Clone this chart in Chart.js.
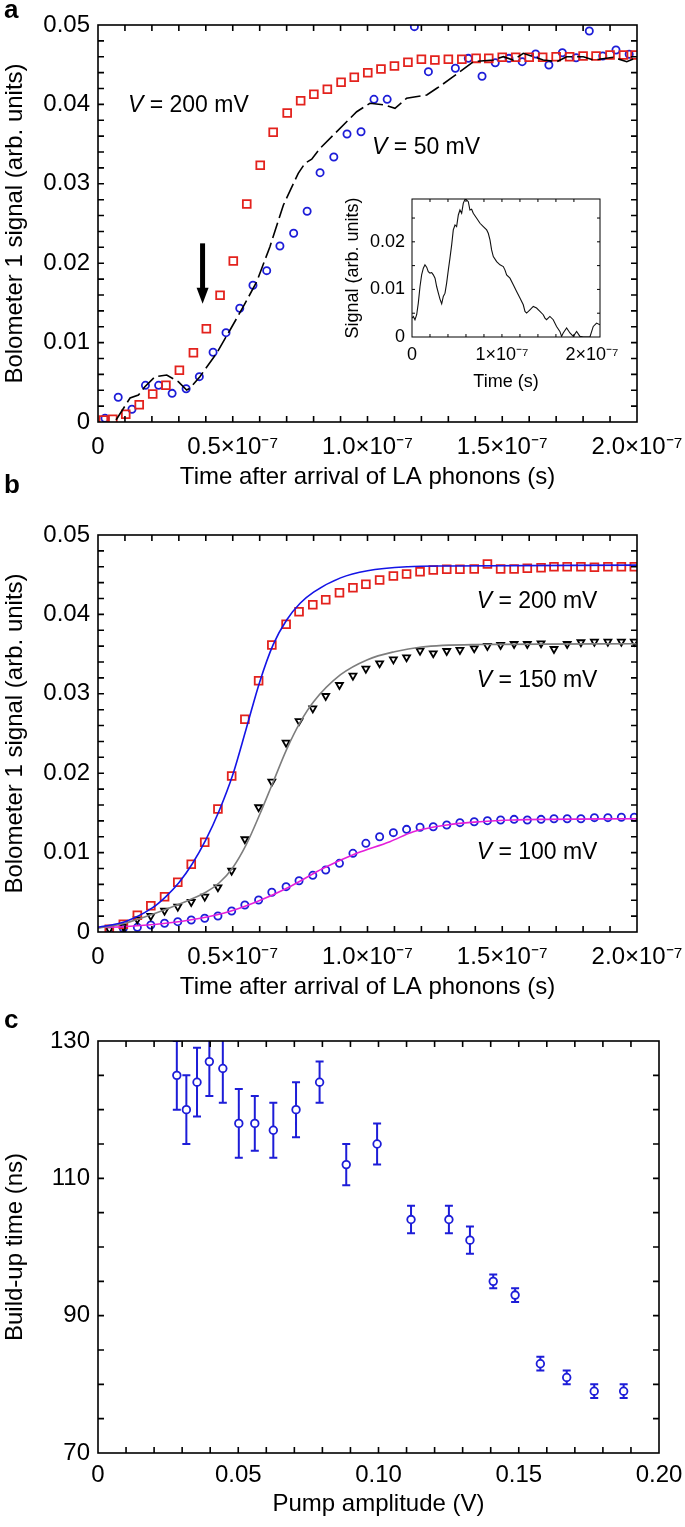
<!DOCTYPE html>
<html>
<head>
<meta charset="utf-8">
<title>Bolometer 1 signal build-up</title>
<script src="https://cdn.jsdelivr.net/npm/chart.js@4.4.1/dist/chart.umd.min.js"></script>
<style>
  body { margin: 0; background: #fff; }
  #page { position: relative; width: 685px; height: 1527px; overflow: hidden; font-family: "Liberation Sans", Arial, sans-serif; }
  #page canvas { position: absolute; }
  .tag { position: absolute; left: 4px; font-weight: bold; font-size: 26px; line-height: 1; color: #000; }
</style>
</head>
<body>
<div id="page">
  <canvas id="chart-a" width="685" height="500" style="left:0;top:0"></canvas>
  <canvas id="chart-inset" width="290" height="210" style="left:340px;top:190px"></canvas>
  <canvas id="chart-b" width="685" height="534" style="left:0;top:470px"></canvas>
  <canvas id="chart-c" width="685" height="523" style="left:0;top:1004px"></canvas>
  <div class="tag" style="top:-4px">a</div>
  <div class="tag" style="top:471px">b</div>
  <div class="tag" style="top:1006px">c</div>
</div>
<script>
// --- panel a : V = 200 mV (squares), V = 50 mV (circles + dashed trace), time in ns ---
const aTime200 = [2, 5.5, 10.3, 15.3, 20.3, 25.2, 30.2, 35.4, 40.2, 45.3, 50.2, 55.2, 60.2, 65, 70.2, 75.2, 80.1, 85.1, 90.2, 95.1,
  100.1, 105, 110, 115, 120, 125, 130, 135, 140.3, 145, 150, 155, 160, 165, 170, 175, 180, 184.8, 190, 195, 199.3];
const aSignal200 = [0.00025, 0.00034, 0.00097, 0.00218, 0.00353, 0.00462, 0.00651, 0.00873, 0.01175, 0.01596,
  0.02028, 0.02746, 0.03233, 0.03649, 0.03892, 0.04047, 0.04127, 0.0419, 0.04278, 0.04341,
  0.04399, 0.04446, 0.04484, 0.0453, 0.04568, 0.04559, 0.04568, 0.04568, 0.0458, 0.0458,
  0.04593, 0.04593, 0.04593, 0.04593, 0.04601, 0.04601, 0.0461, 0.0461, 0.04622, 0.04622, 0.04622];
const aTime50 = [2.6, 7.5, 12.6, 17.6, 22.5, 27.5, 32.7, 37.6, 42.7, 47.5, 52.6, 57.5, 62.6, 67.5, 72.6, 77.6, 82.4, 87.5, 92.4, 97.6,
  102.4, 107.3, 117.4, 122.6, 132.6, 137.4, 142.5, 147.4, 152.5, 157.4, 162.4, 167.3, 172.3, 177.4, 182.3, 187.3, 192.2, 197.1];
const aSignal50 = [0.00047, 0.00311, 0.0016, 0.00462, 0.00462, 0.00361, 0.00419, 0.00571, 0.00878, 0.01125,
  0.01432, 0.01722, 0.01906, 0.02217, 0.02377, 0.02654, 0.0314, 0.03338, 0.03627, 0.03656,
  0.04064, 0.04064, 0.04979, 0.04412, 0.04455, 0.0458, 0.04354, 0.04525, 0.0458, 0.04538,
  0.04635, 0.04496, 0.04651, 0.04588, 0.04924, 0.0461, 0.04685, 0.04631];
const aTraceTime = [6.7, 11.9, 15, 17.4, 21.2, 25.5, 29.8, 32.9, 34.1, 37.8, 44, 49, 53.9, 58.9, 63.8, 68.8, 74.3, 76.8, 79.3, 82.4,
  96, 100.9, 106.5, 110.2, 114.5, 122, 125.7, 127.5, 131.8, 139.3, 146.7, 150.4, 154.1, 157.8, 165.2, 170.2, 173.9, 180.1, 183.8,
  191.2, 196.2, 199.3];
const aTraceSignal = [0.00025, 0.00302, 0.0034, 0.00445, 0.00571, 0.00592, 0.00508, 0.00403, 0.00424, 0.00571,
  0.00865, 0.01159, 0.01452, 0.01767, 0.02208, 0.02733, 0.03132, 0.03258, 0.03309, 0.03447,
  0.03908, 0.04014, 0.03992, 0.03951, 0.04077, 0.04118, 0.04203, 0.04244, 0.04349, 0.04538,
  0.04559, 0.04601, 0.04559, 0.04644, 0.04559, 0.04538, 0.04601, 0.04601, 0.04559,
  0.04593, 0.04538, 0.0458];

// --- inset : difference signal ---
const insetTime = [0, 1.5, 3.3, 5.2, 7, 8.9, 10.7, 12.6, 14.4, 16.3, 18.1, 20, 21.9, 23.7, 25.6, 27.4, 29.3, 31.1, 33, 34.8,
  36.7, 38.5, 40.4, 42.2, 44.1, 45.9, 47.8, 49.6, 51.5, 53.3, 55.2, 57, 58.9, 60.7, 62.6, 64.4, 66.3, 68.1, 71.9, 75.6,
  79.3, 83, 84.8, 86.7, 88.5, 90.4, 94.1, 97.8, 101.5, 103.3, 105.2, 108.9, 112.6, 116.3, 120, 123.7, 125.6, 127.4, 131.1, 134.8,
  138.5, 142.2, 145.9, 147.8, 149.6, 153.3, 157, 160.7, 164.4, 166.3, 168.1, 171.9, 175.6, 179.3, 183, 186.7, 190.4, 194.1, 197.8, 201.5,
  205.2, 208.9];
const insetSignal = [0.00398, 0.00432, 0.00363, 0.00468, 0.00713, 0.01061, 0.01306, 0.01447, 0.01516, 0.01468,
  0.01375, 0.01342, 0.01354, 0.01306, 0.01237, 0.01061, 0.00922, 0.00797, 0.00698, 0.00851,
  0.00922, 0.01132, 0.01411, 0.01656, 0.01935, 0.0225, 0.02354, 0.02319, 0.02564, 0.02669,
  0.026, 0.02809, 0.02893, 0.02878, 0.02843, 0.02669, 0.02683, 0.026, 0.02495, 0.0239,
  0.02319, 0.0225, 0.0218, 0.0204, 0.0183, 0.0169, 0.01585, 0.01516, 0.0148, 0.01411,
  0.01306, 0.01237, 0.01096, 0.00956, 0.00818, 0.00677, 0.00537, 0.00503, 0.00572, 0.00642,
  0.00608, 0.00537, 0.00468, 0.00398, 0.00363, 0.00432, 0.00363, 0.00222, 0.00117, 0.00013,
  0.00084, 0.00189, 0.00084, 0.00013, 0.00117, 0.00013, 0, 0, 0, 0.00222,
  0.00293, 0.00258];

// --- panel b : three bias voltages with fitted curves ---
const bTime = [4.2, 9.4, 14.6, 19.6, 24.7, 29.6, 34.6, 39.6, 44.5, 49.6, 54.5, 59.6, 64.5, 69.8, 74.6, 79.7, 84.5, 89.6, 94.6, 99.4,
  104.5, 109.6, 114.5, 119.5, 124.4, 129.4, 134.3, 139.6, 144.5, 149.4, 154.4, 159.3, 164.4, 169.2, 174.1, 179.2, 184.2, 189.2, 194.2, 199];
const bSignal200 = [0.00034, 0.00097, 0.0021, 0.00331, 0.00445, 0.00626, 0.00853, 0.0113, 0.01549, 0.01965,
  0.02679, 0.03165, 0.03615, 0.03875, 0.04034, 0.04122, 0.04185, 0.04273, 0.04336, 0.04379,
  0.04433, 0.04484, 0.04509, 0.04538, 0.04559, 0.04568, 0.04568, 0.04572, 0.04635, 0.04572,
  0.04572, 0.04581, 0.04588, 0.04601, 0.04601, 0.04601, 0.04593, 0.04601, 0.04601, 0.04601];
const bSignal150 = [0.00034, 0.00067, 0.0016, 0.00202, 0.00268, 0.00319, 0.00378, 0.00445, 0.00563, 0.00772,
  0.01168, 0.01571, 0.01893, 0.02384, 0.02657, 0.02817, 0.02972, 0.03111, 0.03228, 0.03316,
  0.03384, 0.03434, 0.0346, 0.03543, 0.0351, 0.03539, 0.03552, 0.03573, 0.03602, 0.03615,
  0.03627, 0.03627, 0.03636, 0.03564, 0.03627, 0.03649, 0.03656, 0.03656, 0.03656, 0.03656];
const bSignal100 = [0.00025, 0.00047, 0.00059, 0.00088, 0.0011, 0.0013, 0.00151, 0.00173, 0.00202, 0.00264,
  0.0034, 0.00403, 0.005, 0.00571, 0.00646, 0.00714, 0.00781, 0.00865, 0.00991, 0.01117,
  0.012, 0.01251, 0.01293, 0.01319, 0.01326, 0.01348, 0.01377, 0.01389, 0.01402, 0.01411,
  0.01419, 0.01411, 0.01419, 0.01427, 0.01427, 0.01427, 0.0144, 0.0144, 0.01445, 0.01445];
const bFitTime200 = [0, 10, 20, 25, 30, 35, 40, 45, 50, 55, 60, 65, 70, 75, 80, 90, 100, 115, 130, 200];
const bFit200 = [0.0006, 0.0013, 0.003, 0.0044, 0.0062, 0.0086, 0.0116, 0.0153, 0.0198, 0.0256,
  0.0315, 0.0362, 0.0393, 0.0414, 0.0428, 0.0446, 0.0455, 0.046, 0.0461, 0.0462];
const bFitTime150 = [0, 10, 20, 30, 40, 45, 50, 55, 60, 65, 70, 75, 80, 90, 100, 110, 120, 140, 200];
const bFit150 = [0.00047, 0.0011, 0.0022, 0.0035, 0.005, 0.0062, 0.0081, 0.011, 0.0148, 0.0189,
  0.023, 0.0264, 0.029, 0.0324, 0.0343, 0.0353, 0.0359, 0.0362, 0.0363];
const bFitTime100 = [0, 9.4, 21.8, 34.1, 46.5, 58.9, 71.2, 83.6, 96, 108.3, 117, 129.4, 141.7, 154.1, 166.5, 200];
const bFit100 = [0.0006, 0.00067, 0.00097, 0.00151, 0.00236, 0.00382, 0.00571, 0.00802, 0.00991, 0.01137,
  0.01263, 0.01348, 0.01389, 0.01411, 0.01419, 0.01427];

// --- panel c : build-up time vs pump amplitude ---
const pumpAmplitude = [0.0281, 0.0315, 0.0353, 0.0397, 0.0445, 0.0502, 0.0559, 0.0625, 0.0706, 0.079,
  0.0885, 0.0995, 0.1116, 0.1251, 0.1326, 0.1409, 0.1487, 0.1577, 0.1671, 0.1769, 0.1874];
const buildUpTime = [125, 120, 124, 127, 126, 118, 118, 117, 120, 124, 112, 115, 104, 104, 101, 95, 93, 83, 81, 79, 79];
const buildUpError = [5, 5, 5, 5, 5, 5, 4, 4, 4, 3, 3, 3, 2, 2, 2, 1, 1, 1, 1, 1, 1];

// --- tick labels ---
const timeTicks = [0, 50, 100, 150, 200];
const timeTickLabels = ['0', '0.5×10⁻⁷', '1.0×10⁻⁷', '1.5×10⁻⁷', '2.0×10⁻⁷'];
const signalTicks = [0, 0.01, 0.02, 0.03, 0.04, 0.05];
const signalTickLabels = ['0', '0.01', '0.02', '0.03', '0.04', '0.05'];
const insetTimeTicks = [0, 100, 200];
const insetTimeTickLabels = ['0', '1×10⁻⁷', '2×10⁻⁷'];
const insetSignalTicks = [0, 0.01, 0.02];
const insetSignalTickLabels = ['0', '0.01', '0.02'];
const pumpTicks = [0, 0.05, 0.1, 0.15, 0.2];
const pumpTickLabels = ['0', '0.05', '0.10', '0.15', '0.20'];
const buildUpTicks = [70, 90, 110, 130];
const buildUpTickLabels = ['70', '90', '110', '130'];

const FONT = '"Liberation Sans", Arial, Helvetica, sans-serif';
const RED = '#e3221d';
const BLUE = '#1d1dd8';
const FIT_BLUE = '#1414e6';
const GREY = '#7d7d7d';
const MAGENTA = '#e41fd9';

function pairs(xs, ys) {
  return xs.map((x, i) => ({ x: x, y: ys[i] }));
}

// axis with a fixed footprint so the plot box lands where the figure has it
function fixedAxis(o) {
  const bottom = o.position === 'bottom';
  return {
    type: 'linear',
    position: o.position,
    min: o.min,
    max: o.max,
    grid: { display: false, drawTicks: false },
    border: { display: false },
    afterBuildTicks: s => { s.ticks = o.ticks.map(v => ({ value: v })); },
    afterFit: s => {
      if (bottom) s.height = o.size; else s.width = o.size;
      s.paddingLeft = 0; s.paddingRight = 0; s.paddingTop = 0; s.paddingBottom = 0;
    },
    ticks: {
      autoSkip: false, maxRotation: 0, minRotation: 0,
      padding: o.tickPad, color: '#000',
      font: { family: FONT, size: o.fontSize },
      callback: (v, i) => o.labels[i]
    },
    title: {
      display: true, text: o.title, color: '#000',
      font: { family: FONT, size: o.fontSize },
      padding: bottom ? { top: 0, bottom: o.titlePad } : { top: o.titlePad, bottom: 0 }
    }
  };
}

// box round the plot, with inward ticks on all four sides (MATLAB look)
function framePlugin(xStep, yStep, tickLen, lineWidth) {
  return {
    id: 'frame',
    afterDraw(chart) {
      const { ctx, chartArea: a, scales: { x, y } } = chart;
      ctx.save();
      ctx.strokeStyle = '#000';
      ctx.lineWidth = lineWidth;
      ctx.strokeRect(a.left, a.top, a.right - a.left, a.bottom - a.top);
      ctx.beginPath();
      const nx = Math.round((x.max - x.min) / xStep);
      for (let i = 1; i < nx; i++) {
        const px = x.getPixelForValue(x.min + i * xStep);
        ctx.moveTo(px, a.bottom); ctx.lineTo(px, a.bottom - tickLen);
        ctx.moveTo(px, a.top); ctx.lineTo(px, a.top + tickLen);
      }
      const ny = Math.round((y.max - y.min) / yStep);
      for (let i = 1; i < ny; i++) {
        const py = y.getPixelForValue(y.min + i * yStep);
        ctx.moveTo(a.left, py); ctx.lineTo(a.left + tickLen, py);
        ctx.moveTo(a.right, py); ctx.lineTo(a.right - tickLen, py);
      }
      ctx.stroke();
      ctx.restore();
    }
  };
}

// "V = ... mV" with an italic V
function drawVLabel(chart, t, s, rest) {
  const { ctx, scales: { x, y } } = chart;
  const px = x.getPixelForValue(t);
  const py = y.getPixelForValue(s);
  ctx.save();
  ctx.fillStyle = '#000';
  ctx.textBaseline = 'middle';
  ctx.textAlign = 'left';
  ctx.font = 'italic 23px ' + FONT;
  ctx.fillText('V', px, py);
  const w = ctx.measureText('V').width;
  ctx.font = '23px ' + FONT;
  ctx.fillText(rest, px + w, py);
  ctx.restore();
}

const scatterPoints = (style, radius, color, fill) => ({
  showLine: false, pointStyle: style, pointRadius: radius, pointHoverRadius: radius,
  pointBorderColor: color, pointBackgroundColor: fill || 'rgba(0,0,0,0)', pointBorderWidth: 1.8,
  borderColor: color, backgroundColor: fill || 'rgba(0,0,0,0)', clip: 0
});

const baseOptions = {
  responsive: false,
  animation: false,
  events: [],
  plugins: { legend: { display: false }, tooltip: { enabled: false } }
};

// ---------------- panel a ----------------
new Chart(document.getElementById('chart-a'), {
  type: 'scatter',
  data: {
    datasets: [
      { type: 'line', label: 'V = 50 mV trace', data: pairs(aTraceTime, aTraceSignal), borderColor: '#000', borderWidth: 1.6,
        borderDash: [16, 5], pointRadius: 0, fill: false, tension: 0, clip: 0 },
      Object.assign({ label: 'V = 200 mV', data: pairs(aTime200, aSignal200) }, scatterPoints('rect', 5.5, RED)),
      Object.assign({ label: 'V = 50 mV', data: pairs(aTime50, aSignal50) }, scatterPoints('circle', 3.6, BLUE))
    ]
  },
  options: Object.assign({}, baseOptions, {
    layout: { padding: { top: 25, right: 48, left: 0, bottom: 0 } },
    scales: {
      x: fixedAxis({ position: 'bottom', min: 0, max: 200, ticks: timeTicks, labels: timeTickLabels, size: 78, tickPad: 11,
        fontSize: 24, title: 'Time after arrival of LA phonons (s)', titlePad: 8 }),
      y: fixedAxis({ position: 'left', min: 0, max: 0.05, ticks: signalTicks, labels: signalTickLabels, size: 98, tickPad: 8,
        fontSize: 24, title: 'Bolometer 1 signal (arb. units)', titlePad: 1 })
    }
  }),
  plugins: [framePlugin(10, 0.002, 6, 1.6), {
    id: 'notesA',
    afterDatasetsDraw(chart) {
      drawVLabel(chart, 11.1, 0.0399, ' = 200 mV');
      drawVLabel(chart, 101.7, 0.0345, ' = 50 mV');
      // arrow marking the kink in the V = 200 mV curve
      const { ctx, scales: { x, y } } = chart;
      const ax = x.getPixelForValue(38.8);
      const top = y.getPixelForValue(0.0225);
      const tip = y.getPixelForValue(0.0149);
      ctx.save();
      ctx.fillStyle = '#000';
      ctx.fillRect(ax - 2.5, top, 5, tip - top - 14);
      ctx.beginPath();
      ctx.moveTo(ax - 6, tip - 16);
      ctx.lineTo(ax + 6, tip - 16);
      ctx.lineTo(ax, tip);
      ctx.closePath();
      ctx.fill();
      ctx.restore();
    }
  }]
});

// ---------------- inset ----------------
new Chart(document.getElementById('chart-inset'), {
  type: 'scatter',
  data: {
    datasets: [
      { type: 'line', label: 'signal difference', data: pairs(insetTime, insetSignal), borderColor: '#111', borderWidth: 1.1,
        pointRadius: 0, fill: false, tension: 0, clip: 0 }
    ]
  },
  options: Object.assign({}, baseOptions, {
    layout: { padding: { top: 9, right: 30, left: 0, bottom: 0 } },
    scales: {
      x: fixedAxis({ position: 'bottom', min: 0, max: 209, ticks: insetTimeTicks, labels: insetTimeTickLabels, size: 63, tickPad: 7,
        fontSize: 18, title: 'Time (s)', titlePad: 7 }),
      y: fixedAxis({ position: 'left', min: 0, max: 0.029, ticks: insetSignalTicks, labels: insetSignalTickLabels, size: 72, tickPad: 7,
        fontSize: 18, title: 'Signal (arb. units)', titlePad: 2 })
    }
  }),
  plugins: [framePlugin(20, 0.005, 3, 1)]
});

// ---------------- panel b ----------------
const fitLine = (label, xs, ys, color) => ({
  type: 'line', label: label, data: pairs(xs, ys), borderColor: color, borderWidth: 1.6,
  pointRadius: 0, fill: false, cubicInterpolationMode: 'monotone', clip: 0
});

new Chart(document.getElementById('chart-b'), {
  type: 'scatter',
  data: {
    datasets: [
      fitLine('fit 200 mV', bFitTime200, bFit200, FIT_BLUE),
      fitLine('fit 150 mV', bFitTime150, bFit150, GREY),
      fitLine('fit 100 mV', bFitTime100, bFit100, MAGENTA),
      Object.assign({ label: 'V = 200 mV', data: pairs(bTime, bSignal200) }, scatterPoints('rect', 5.5, RED)),
      Object.assign({ label: 'V = 150 mV', data: pairs(bTime, bSignal150), pointRotation: 180 }, scatterPoints('triangle', 4, '#000')),
      Object.assign({ label: 'V = 100 mV', data: pairs(bTime, bSignal100) }, scatterPoints('circle', 3.6, BLUE))
    ]
  },
  options: Object.assign({}, baseOptions, {
    layout: { padding: { top: 65, right: 48, left: 0, bottom: 0 } },
    scales: {
      x: fixedAxis({ position: 'bottom', min: 0, max: 200, ticks: timeTicks, labels: timeTickLabels, size: 72, tickPad: 11,
        fontSize: 24, title: 'Time after arrival of LA phonons (s)', titlePad: 2 }),
      y: fixedAxis({ position: 'left', min: 0, max: 0.05, ticks: signalTicks, labels: signalTickLabels, size: 98, tickPad: 8,
        fontSize: 24, title: 'Bolometer 1 signal (arb. units)', titlePad: 1 })
    }
  }),
  plugins: [framePlugin(10, 0.002, 6, 1.6), {
    id: 'notesB',
    afterDatasetsDraw(chart) {
      drawVLabel(chart, 140.5, 0.0416, ' = 200 mV');
      drawVLabel(chart, 140.5, 0.0317, ' = 150 mV');
      drawVLabel(chart, 140.5, 0.00995, ' = 100 mV');
    }
  }]
});

// ---------------- panel c ----------------
new Chart(document.getElementById('chart-c'), {
  type: 'scatter',
  data: {
    datasets: [
      Object.assign({ label: 'build-up time', data: pairs(pumpAmplitude, buildUpTime) }, scatterPoints('circle', 3.8, BLUE, '#fff'))
    ]
  },
  options: Object.assign({}, baseOptions, {
    layout: { padding: { top: 37, right: 26, left: 0, bottom: 0 } },
    scales: {
      x: fixedAxis({ position: 'bottom', min: 0, max: 0.2, ticks: pumpTicks, labels: pumpTickLabels, size: 74, tickPad: 8,
        fontSize: 24, title: 'Pump amplitude (V)', titlePad: 8 }),
      y: fixedAxis({ position: 'left', min: 70, max: 130, ticks: buildUpTicks, labels: buildUpTickLabels, size: 98, tickPad: 8,
        fontSize: 24, title: 'Build-up time (ns)', titlePad: 1 })
    }
  }),
  plugins: [framePlugin(0.01, 5, 6, 1.6), {
    id: 'errorBars',
    beforeDatasetsDraw(chart) {
      const { ctx, chartArea: a, scales: { x, y } } = chart;
      ctx.save();
      ctx.beginPath();
      ctx.rect(a.left, a.top, a.right - a.left, a.bottom - a.top);
      ctx.clip();
      ctx.strokeStyle = BLUE;
      ctx.lineWidth = 2;
      ctx.beginPath();
      pumpAmplitude.forEach((v, i) => {
        const px = x.getPixelForValue(v);
        const hi = y.getPixelForValue(buildUpTime[i] + buildUpError[i]);
        const lo = y.getPixelForValue(buildUpTime[i] - buildUpError[i]);
        ctx.moveTo(px, hi); ctx.lineTo(px, lo);
        ctx.moveTo(px - 4, hi); ctx.lineTo(px + 4, hi);
        ctx.moveTo(px - 4, lo); ctx.lineTo(px + 4, lo);
      });
      ctx.stroke();
      ctx.restore();
    }
  }]
});
</script>
</body>
</html>
